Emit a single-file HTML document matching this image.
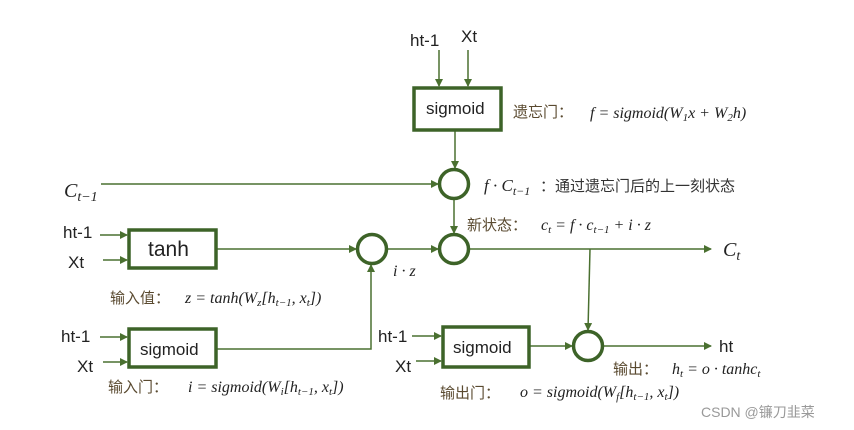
<!DOCTYPE html>
<html><head><meta charset="utf-8"><style>
html,body{margin:0;padding:0;background:#fff;}
svg{display:block;}
.l{font-family:"Liberation Sans","Noto Sans CJK SC",sans-serif;fill:#222;}
.m{font-family:"Liberation Serif",serif;font-style:italic;fill:#222;}
.c{font-family:"Liberation Sans","Noto Sans CJK SC",sans-serif;fill:#5a4a30;}
</style></head><body>
<svg width="854" height="430" viewBox="0 0 854 430" xmlns="http://www.w3.org/2000/svg">
<defs><marker id="a" markerWidth="8" markerHeight="8" refX="7" refY="4" orient="auto" markerUnits="userSpaceOnUse"><path d="M0,0 L8,4 L0,8 z" fill="#4a7030"/></marker></defs>
<g stroke="#4a7030" stroke-width="1.5" fill="none">
<line x1="439" y1="50" x2="439" y2="86" marker-end="url(#a)"/>
<line x1="468" y1="50" x2="468" y2="86" marker-end="url(#a)"/>
<line x1="455" y1="131" x2="455" y2="168" marker-end="url(#a)"/>
<line x1="101" y1="184" x2="438" y2="184" marker-end="url(#a)"/>
<line x1="454" y1="199" x2="454" y2="233" marker-end="url(#a)"/>
<line x1="469" y1="249" x2="711" y2="249" marker-end="url(#a)"/>
<line x1="590" y1="249" x2="588" y2="330" marker-end="url(#a)"/>
<line x1="100" y1="235" x2="127" y2="235" marker-end="url(#a)"/>
<line x1="103" y1="260" x2="127" y2="260" marker-end="url(#a)"/>
<line x1="217" y1="249" x2="356" y2="249" marker-end="url(#a)"/>
<line x1="387" y1="249" x2="438" y2="249" marker-end="url(#a)"/>
<line x1="100" y1="337" x2="127" y2="337" marker-end="url(#a)"/>
<line x1="103" y1="362" x2="127" y2="362" marker-end="url(#a)"/>
<polyline points="217,349 371,349 371,265" marker-end="url(#a)"/>
<line x1="412" y1="336" x2="441" y2="336" marker-end="url(#a)"/>
<line x1="416" y1="361" x2="441" y2="361" marker-end="url(#a)"/>
<line x1="530" y1="346" x2="572" y2="346" marker-end="url(#a)"/>
<line x1="603" y1="346" x2="711" y2="346" marker-end="url(#a)"/>
</g>
<g stroke="#3d6328" stroke-width="3.5" fill="#fff">
<rect x="414" y="88" width="87" height="42"/>
<rect x="129" y="230" width="87" height="38"/>
<rect x="129" y="329" width="87" height="38"/>
<rect x="443" y="327" width="86" height="40"/>
<circle cx="454" cy="184" r="14.5"/>
<circle cx="454" cy="249" r="14.5"/>
<circle cx="372" cy="249" r="14.5"/>
<circle cx="588" cy="346" r="14.5"/>
</g>
<g class="l" font-size="17">
<text x="426" y="114">sigmoid</text>
<text x="148" y="256" font-size="21">tanh</text>
<text x="140" y="355">sigmoid</text>
<text x="453" y="353">sigmoid</text>
<text x="410" y="46">ht-1</text><text x="461" y="42">Xt</text>
<text x="63" y="238">ht-1</text><text x="68" y="268">Xt</text>
<text x="61" y="342">ht-1</text><text x="77" y="372">Xt</text>
<text x="378" y="342">ht-1</text><text x="395" y="372">Xt</text>
<text x="719" y="352">ht</text>
</g>
<g class="m" font-size="16">
<text x="64" y="197" font-size="20">C<tspan font-size="14" dy="4">t−1</tspan></text>
<text x="723" y="256" font-size="20">C<tspan font-size="14" dy="4">t</tspan></text>
<text x="393" y="276">i · z</text>
<text x="484" y="191" font-size="17">f · C<tspan font-size="12" dy="4">t−1</tspan></text>
<text x="590" y="118">f = sigmoid(W<tspan font-size="11" dy="3">1</tspan><tspan dy="-3">x + W</tspan><tspan font-size="11" dy="3">2</tspan><tspan dy="-3">h)</tspan></text>
<text x="541" y="230">c<tspan font-size="11" dy="3">t</tspan><tspan dy="-3"> = f · c</tspan><tspan font-size="11" dy="3">t−1</tspan><tspan dy="-3"> + i · z</tspan></text>
<text x="185" y="303">z = tanh(W<tspan font-size="11" dy="3">z</tspan><tspan dy="-3">[h</tspan><tspan font-size="11" dy="3">t−1</tspan><tspan dy="-3">, x</tspan><tspan font-size="11" dy="3">t</tspan><tspan dy="-3">])</tspan></text>
<text x="188" y="392">i = sigmoid(W<tspan font-size="11" dy="3">i</tspan><tspan dy="-3">[h</tspan><tspan font-size="11" dy="3">t−1</tspan><tspan dy="-3">, x</tspan><tspan font-size="11" dy="3">t</tspan><tspan dy="-3">])</tspan></text>
<text x="520" y="397">o = sigmoid(W<tspan font-size="11" dy="3">f</tspan><tspan dy="-3">[h</tspan><tspan font-size="11" dy="3">t−1</tspan><tspan dy="-3">, x</tspan><tspan font-size="11" dy="3">t</tspan><tspan dy="-3">])</tspan></text>
<text x="672" y="374">h<tspan font-size="11" dy="3">t</tspan><tspan dy="-3"> = o · tanhc</tspan><tspan font-size="11" dy="3">t</tspan></text>
</g>
<g class="c" font-size="15">
<text x="513" y="117">遗忘门：</text>
<text x="467" y="230">新状态：</text>
<text x="110" y="303">输入值：</text>
<text x="108" y="392">输入门：</text>
<text x="440" y="398">输出门：</text>
<text x="613" y="374">输出：</text>
<text x="540" y="191" fill="#333">：通过遗忘门后的上一刻状态</text>
</g>
<text x="701" y="417" font-family="Liberation Sans,Noto Sans CJK SC,sans-serif" font-size="14" fill="#999">CSDN @镰刀韭菜</text>
</svg>
</body></html>
